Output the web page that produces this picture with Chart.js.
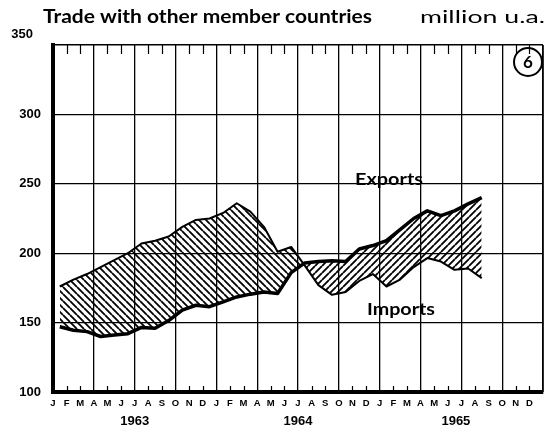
<!DOCTYPE html>
<html>
<head>
<meta charset="utf-8">
<script src="https://cdn.jsdelivr.net/npm/chart.js@4.4.0/dist/chart.umd.min.js"></script>
<style>
  html, body { margin: 0; padding: 0; background: #fff; }
  #wrap { width: 550px; height: 429px; }
</style>
</head>
<body>
<div id="wrap"><canvas id="tradeChart" width="550" height="429"></canvas></div>
<script>
// months Jan 1963 .. Dec 1965, values in million u.a.
const monthLetters = ['J', 'F', 'M', 'A', 'M', 'J', 'J', 'A', 'S', 'O', 'N', 'D'];
const years = ['1963', '1964', '1965'];
const yearCenters = [6, 18, 29.6];
const yTicks = [100, 150, 200, 250, 300, 350];

const exportsData = [147, 144.5, 143.5, 140, 141, 142, 146.5, 146, 151.5, 159, 162.5, 161.5,
                     165, 168.5, 170.5, 172, 171, 186, 193, 194, 194.5, 194, 203, 205.5,
                     209, 217, 225, 230.5, 227, 230.5, 235.5, 240];
const importsData = [176, 181, 185, 190, 195, 200, 207, 209, 212, 219, 224, 225,
                     229, 236, 230, 219, 201, 204.5, 191, 177, 170, 172, 180, 185,
                     176, 181, 190, 196.5, 194, 188, 189, 182];

const FONT = 'Lato, "DejaVu Sans", sans-serif';
const NUMFONT = '"Liberation Sans", Arial, sans-serif';

const canvas = document.getElementById('tradeChart');
const ctx = canvas.getContext('2d');

// diagonal hatch tiles: 'back' = \\\ , 'fwd' = ///
function hatch(dir) {
    const s = 7;
    const c = document.createElement('canvas');
    c.width = s; c.height = s;
    const g = c.getContext('2d');
    g.strokeStyle = '#000';
    g.lineWidth = 1.8;
    g.beginPath();
    for (let k = -1; k <= 1; k++) {
        if (dir === 'back') {
            g.moveTo(0, k * s); g.lineTo(s, s + k * s);
        } else {
            g.moveTo(0, s + k * s); g.lineTo(s, k * s);
        }
    }
    g.stroke();
    return ctx.createPattern(c, 'repeat');
}

// text fitted to the width it has in the picture
function fitText(c, txt, x, y, w, font) {
    c.font = font;
    const m = c.measureText(txt).width;
    c.save();
    c.translate(x, y);
    c.scale(w / m, 1);
    c.fillText(txt, 0, 0);
    c.restore();
}

const decor = {
    id: 'decor',
    afterDraw(chart) {
        const c = chart.ctx;
        const a = chart.chartArea;
        const xs = chart.scales.x;
        c.save();
        c.strokeStyle = '#000';
        c.fillStyle = '#000';

        // small month ticks inside the frame
        c.lineWidth = 1.2;
        c.beginPath();
        for (let m = 1; m < 36; m++) {
            if (m % 3 === 0) continue;
            const x = Math.round(xs.getPixelForValue(m)) + 0.5;
            c.moveTo(x, a.top); c.lineTo(x, a.top + 9);
            c.moveTo(x, a.bottom - 6); c.lineTo(x, a.bottom);
        }
        c.stroke();

        // right border
        c.lineWidth = 1.5;
        c.beginPath();
        c.moveTo(a.right, a.top); c.lineTo(a.right, a.bottom);
        c.stroke();

        // year labels
        c.textAlign = 'center';
        c.textBaseline = 'alphabetic';
        c.font = 'bold 13px ' + NUMFONT;
        years.forEach((y, i) => {
            c.fillText(y, xs.getPixelForValue(yearCenters[i]), 425);
        });

        // top value label sits above the frame
        c.textAlign = 'right';
        c.fillText('350', 33, 38);

        // title and unit
        c.textAlign = 'left';
        fitText(c, 'Trade with other member countries', 43, 23, 329, 'bold 18px ' + FONT);
        fitText(c, 'million u.a.', 420, 23, 125, '17px ' + FONT);

        // series names
        fitText(c, 'Exports', 355, 185, 68, 'bold 17px ' + FONT);
        fitText(c, 'Imports', 367, 315, 68, 'bold 17px ' + FONT);

        // circled chart number
        c.lineWidth = 2;
        c.beginPath();
        c.arc(528, 62, 14, 0, Math.PI * 2);
        c.stroke();
        c.textAlign = 'center';
        c.font = 'bold 17px ' + FONT;
        c.fillText('6', 528, 68);
        c.restore();
    }
};

new Chart(ctx, {
    type: 'line',
    data: {
        datasets: [
            {
                label: 'Exports',
                data: exportsData.map((v, i) => ({ x: i + 0.5, y: v })),
                borderColor: '#000',
                borderWidth: 3.5,
                pointRadius: 0,
                tension: 0,
                borderJoinStyle: 'round',
                fill: { target: 1, above: hatch('fwd'), below: hatch('back') }
            },
            {
                label: 'Imports',
                data: importsData.map((v, i) => ({ x: i + 0.5, y: v })),
                borderColor: '#000',
                borderWidth: 2,
                pointRadius: 0,
                tension: 0,
                borderJoinStyle: 'round',
                fill: false
            }
        ]
    },
    options: {
        responsive: false,
        animation: false,
        devicePixelRatio: 1,
        layout: { padding: { left: 0, top: 45, right: 7, bottom: 0 } },
        plugins: {
            legend: { display: false },
            tooltip: { enabled: false },
            title: { display: false }
        },
        scales: {
            x: {
                type: 'linear',
                min: 0,
                max: 36,
                afterBuildTicks: s => { s.ticks = Array.from({ length: 37 }, (_, i) => ({ value: i })); },
                afterFit: s => { s.height = 37; },
                ticks: {
                    autoSkip: false,
                    maxRotation: 0,
                    padding: 6,
                    color: '#000',
                    font: { family: NUMFONT, size: 9.5, weight: 'bold' },
                    callback: v => (v < 36 ? monthLetters[v % 12] : '')
                },
                grid: {
                    drawTicks: false,
                    lineWidth: 1.3,
                    color: c => (c.tick && c.tick.value % 3 === 0 && c.tick.value > 0) ? '#000' : 'rgba(0,0,0,0)'
                },
                border: { display: true, color: '#000', width: 4 }
            },
            y: {
                min: 100,
                max: 350,
                afterBuildTicks: s => { s.ticks = yTicks.map(v => ({ value: v })); },
                afterFit: s => { s.width = 53; },
                ticks: {
                    padding: 12,
                    color: '#000',
                    font: { family: NUMFONT, size: 13, weight: 'bold' },
                    callback: v => (v === 350 ? '' : v)
                },
                grid: {
                    drawTicks: false,
                    color: '#000',
                    lineWidth: c => (c.tick && c.tick.value === 350 ? 1.6 : 1.3)
                },
                border: { display: true, color: '#000', width: 4 }
            }
        }
    },
    plugins: [decor]
});
</script>
</body>
</html>
